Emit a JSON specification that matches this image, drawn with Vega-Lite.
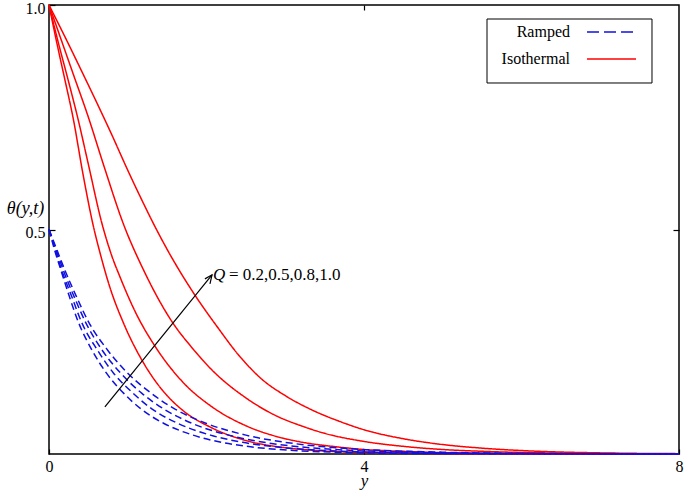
{
  "$schema": "https://vega.github.io/schema/vega-lite/v6.json",
  "width": 630,
  "height": 449,
  "autosize": "none",
  "padding": {"left": 49, "top": 5, "right": 6, "bottom": 38},
  "background": "white",
  "config": {
    "view": {"stroke": "black", "strokeWidth": 1.5},
    "font": "Liberation Serif",
    "axis": {"grid": false, "domain": false, "labelFont": "Liberation Serif", "labelFontSize": 16, "labelColor": "black", "tickColor": "black", "tickWidth": 1.2, "titleFont": "Liberation Serif", "titleColor": "black", "titleFontWeight": "normal"}
  },
  "datasets": {
    "curves": [
      {"curve": "R1", "case": "Isothermal", "pos": 0, "theta": 1},
      {"curve": "R1", "case": "Isothermal", "pos": 0.1, "theta": 0.915},
      {"curve": "R1", "case": "Isothermal", "pos": 0.2, "theta": 0.835},
      {"curve": "R1", "case": "Isothermal", "pos": 0.31, "theta": 0.745},
      {"curve": "R1", "case": "Isothermal", "pos": 0.43, "theta": 0.625},
      {"curve": "R1", "case": "Isothermal", "pos": 0.56, "theta": 0.51},
      {"curve": "R1", "case": "Isothermal", "pos": 0.66, "theta": 0.44},
      {"curve": "R1", "case": "Isothermal", "pos": 0.77, "theta": 0.373},
      {"curve": "R1", "case": "Isothermal", "pos": 0.95, "theta": 0.29},
      {"curve": "R1", "case": "Isothermal", "pos": 1.18, "theta": 0.209},
      {"curve": "R1", "case": "Isothermal", "pos": 1.45, "theta": 0.14},
      {"curve": "R1", "case": "Isothermal", "pos": 1.7, "theta": 0.097},
      {"curve": "R1", "case": "Isothermal", "pos": 2.07, "theta": 0.058},
      {"curve": "R1", "case": "Isothermal", "pos": 2.5, "theta": 0.03},
      {"curve": "R1", "case": "Isothermal", "pos": 2.91, "theta": 0.016},
      {"curve": "R1", "case": "Isothermal", "pos": 3.3, "theta": 0.009},
      {"curve": "R1", "case": "Isothermal", "pos": 3.7, "theta": 0.005},
      {"curve": "R1", "case": "Isothermal", "pos": 4.2, "theta": 0.003},
      {"curve": "R1", "case": "Isothermal", "pos": 5, "theta": 0.001},
      {"curve": "R1", "case": "Isothermal", "pos": 6, "theta": 0.0003},
      {"curve": "R1", "case": "Isothermal", "pos": 8, "theta": 0},
      {"curve": "R2", "case": "Isothermal", "pos": 0, "theta": 1},
      {"curve": "R2", "case": "Isothermal", "pos": 0.12, "theta": 0.915},
      {"curve": "R2", "case": "Isothermal", "pos": 0.24, "theta": 0.835},
      {"curve": "R2", "case": "Isothermal", "pos": 0.37, "theta": 0.745},
      {"curve": "R2", "case": "Isothermal", "pos": 0.5, "theta": 0.645},
      {"curve": "R2", "case": "Isothermal", "pos": 0.67, "theta": 0.515},
      {"curve": "R2", "case": "Isothermal", "pos": 0.8, "theta": 0.44},
      {"curve": "R2", "case": "Isothermal", "pos": 0.9, "theta": 0.395},
      {"curve": "R2", "case": "Isothermal", "pos": 1.1, "theta": 0.315},
      {"curve": "R2", "case": "Isothermal", "pos": 1.35, "theta": 0.239},
      {"curve": "R2", "case": "Isothermal", "pos": 1.7, "theta": 0.16},
      {"curve": "R2", "case": "Isothermal", "pos": 2.07, "theta": 0.105},
      {"curve": "R2", "case": "Isothermal", "pos": 2.5, "theta": 0.063},
      {"curve": "R2", "case": "Isothermal", "pos": 2.91, "theta": 0.038},
      {"curve": "R2", "case": "Isothermal", "pos": 3.19, "theta": 0.027},
      {"curve": "R2", "case": "Isothermal", "pos": 3.6, "theta": 0.017},
      {"curve": "R2", "case": "Isothermal", "pos": 4, "theta": 0.01},
      {"curve": "R2", "case": "Isothermal", "pos": 4.5, "theta": 0.006},
      {"curve": "R2", "case": "Isothermal", "pos": 5, "theta": 0.003},
      {"curve": "R2", "case": "Isothermal", "pos": 6, "theta": 0.001},
      {"curve": "R2", "case": "Isothermal", "pos": 8, "theta": 0},
      {"curve": "R3", "case": "Isothermal", "pos": 0, "theta": 1},
      {"curve": "R3", "case": "Isothermal", "pos": 0.15, "theta": 0.925},
      {"curve": "R3", "case": "Isothermal", "pos": 0.3, "theta": 0.85},
      {"curve": "R3", "case": "Isothermal", "pos": 0.5, "theta": 0.75},
      {"curve": "R3", "case": "Isothermal", "pos": 0.7, "theta": 0.64},
      {"curve": "R3", "case": "Isothermal", "pos": 0.95, "theta": 0.51},
      {"curve": "R3", "case": "Isothermal", "pos": 1.2, "theta": 0.41},
      {"curve": "R3", "case": "Isothermal", "pos": 1.58, "theta": 0.29},
      {"curve": "R3", "case": "Isothermal", "pos": 1.8, "theta": 0.24},
      {"curve": "R3", "case": "Isothermal", "pos": 2.07, "theta": 0.187},
      {"curve": "R3", "case": "Isothermal", "pos": 2.5, "theta": 0.125},
      {"curve": "R3", "case": "Isothermal", "pos": 2.91, "theta": 0.083},
      {"curve": "R3", "case": "Isothermal", "pos": 3.2, "theta": 0.063},
      {"curve": "R3", "case": "Isothermal", "pos": 3.5, "theta": 0.046},
      {"curve": "R3", "case": "Isothermal", "pos": 4, "theta": 0.028},
      {"curve": "R3", "case": "Isothermal", "pos": 4.5, "theta": 0.017},
      {"curve": "R3", "case": "Isothermal", "pos": 5, "theta": 0.01},
      {"curve": "R3", "case": "Isothermal", "pos": 5.5, "theta": 0.006},
      {"curve": "R3", "case": "Isothermal", "pos": 6.5, "theta": 0.002},
      {"curve": "R3", "case": "Isothermal", "pos": 8, "theta": 0.0003},
      {"curve": "R4", "case": "Isothermal", "pos": 0, "theta": 1},
      {"curve": "R4", "case": "Isothermal", "pos": 0.2, "theta": 0.93},
      {"curve": "R4", "case": "Isothermal", "pos": 0.4, "theta": 0.858},
      {"curve": "R4", "case": "Isothermal", "pos": 0.6, "theta": 0.785},
      {"curve": "R4", "case": "Isothermal", "pos": 0.8, "theta": 0.71},
      {"curve": "R4", "case": "Isothermal", "pos": 1, "theta": 0.632},
      {"curve": "R4", "case": "Isothermal", "pos": 1.2, "theta": 0.558},
      {"curve": "R4", "case": "Isothermal", "pos": 1.35, "theta": 0.505},
      {"curve": "R4", "case": "Isothermal", "pos": 1.6, "theta": 0.425},
      {"curve": "R4", "case": "Isothermal", "pos": 1.83, "theta": 0.36},
      {"curve": "R4", "case": "Isothermal", "pos": 2.15, "theta": 0.28},
      {"curve": "R4", "case": "Isothermal", "pos": 2.4, "theta": 0.222},
      {"curve": "R4", "case": "Isothermal", "pos": 2.7, "theta": 0.167},
      {"curve": "R4", "case": "Isothermal", "pos": 3, "theta": 0.13},
      {"curve": "R4", "case": "Isothermal", "pos": 3.34, "theta": 0.098},
      {"curve": "R4", "case": "Isothermal", "pos": 3.7, "theta": 0.072},
      {"curve": "R4", "case": "Isothermal", "pos": 4, "theta": 0.054},
      {"curve": "R4", "case": "Isothermal", "pos": 4.5, "theta": 0.034},
      {"curve": "R4", "case": "Isothermal", "pos": 5, "theta": 0.021},
      {"curve": "R4", "case": "Isothermal", "pos": 5.5, "theta": 0.013},
      {"curve": "R4", "case": "Isothermal", "pos": 6.15, "theta": 0.0065},
      {"curve": "R4", "case": "Isothermal", "pos": 7, "theta": 0.0025},
      {"curve": "R4", "case": "Isothermal", "pos": 8, "theta": 0.0008},
      {"curve": "B1", "case": "Ramped", "pos": 0, "theta": 0.5},
      {"curve": "B1", "case": "Ramped", "pos": 0.07, "theta": 0.455},
      {"curve": "B1", "case": "Ramped", "pos": 0.15, "theta": 0.41},
      {"curve": "B1", "case": "Ramped", "pos": 0.26, "theta": 0.35},
      {"curve": "B1", "case": "Ramped", "pos": 0.37, "theta": 0.295},
      {"curve": "B1", "case": "Ramped", "pos": 0.55, "theta": 0.23},
      {"curve": "B1", "case": "Ramped", "pos": 0.73, "theta": 0.18},
      {"curve": "B1", "case": "Ramped", "pos": 0.95, "theta": 0.135},
      {"curve": "B1", "case": "Ramped", "pos": 1.17, "theta": 0.1},
      {"curve": "B1", "case": "Ramped", "pos": 1.46, "theta": 0.068},
      {"curve": "B1", "case": "Ramped", "pos": 1.83, "theta": 0.042},
      {"curve": "B1", "case": "Ramped", "pos": 2.19, "theta": 0.026},
      {"curve": "B1", "case": "Ramped", "pos": 2.56, "theta": 0.016},
      {"curve": "B1", "case": "Ramped", "pos": 2.92, "theta": 0.01},
      {"curve": "B1", "case": "Ramped", "pos": 3.65, "theta": 0.004},
      {"curve": "B1", "case": "Ramped", "pos": 4.4, "theta": 0.0015},
      {"curve": "B1", "case": "Ramped", "pos": 8, "theta": 0},
      {"curve": "B2", "case": "Ramped", "pos": 0, "theta": 0.5},
      {"curve": "B2", "case": "Ramped", "pos": 0.08, "theta": 0.455},
      {"curve": "B2", "case": "Ramped", "pos": 0.16, "theta": 0.41},
      {"curve": "B2", "case": "Ramped", "pos": 0.29, "theta": 0.35},
      {"curve": "B2", "case": "Ramped", "pos": 0.41, "theta": 0.295},
      {"curve": "B2", "case": "Ramped", "pos": 0.62, "theta": 0.23},
      {"curve": "B2", "case": "Ramped", "pos": 0.82, "theta": 0.18},
      {"curve": "B2", "case": "Ramped", "pos": 1.07, "theta": 0.135},
      {"curve": "B2", "case": "Ramped", "pos": 1.31, "theta": 0.1},
      {"curve": "B2", "case": "Ramped", "pos": 1.64, "theta": 0.068},
      {"curve": "B2", "case": "Ramped", "pos": 2.05, "theta": 0.042},
      {"curve": "B2", "case": "Ramped", "pos": 2.46, "theta": 0.026},
      {"curve": "B2", "case": "Ramped", "pos": 2.87, "theta": 0.016},
      {"curve": "B2", "case": "Ramped", "pos": 3.28, "theta": 0.01},
      {"curve": "B2", "case": "Ramped", "pos": 4.1, "theta": 0.004},
      {"curve": "B2", "case": "Ramped", "pos": 4.92, "theta": 0.0015},
      {"curve": "B2", "case": "Ramped", "pos": 8, "theta": 0},
      {"curve": "B3", "case": "Ramped", "pos": 0, "theta": 0.5},
      {"curve": "B3", "case": "Ramped", "pos": 0.09, "theta": 0.455},
      {"curve": "B3", "case": "Ramped", "pos": 0.18, "theta": 0.41},
      {"curve": "B3", "case": "Ramped", "pos": 0.32, "theta": 0.35},
      {"curve": "B3", "case": "Ramped", "pos": 0.46, "theta": 0.295},
      {"curve": "B3", "case": "Ramped", "pos": 0.68, "theta": 0.23},
      {"curve": "B3", "case": "Ramped", "pos": 0.91, "theta": 0.18},
      {"curve": "B3", "case": "Ramped", "pos": 1.18, "theta": 0.135},
      {"curve": "B3", "case": "Ramped", "pos": 1.46, "theta": 0.1},
      {"curve": "B3", "case": "Ramped", "pos": 1.82, "theta": 0.068},
      {"curve": "B3", "case": "Ramped", "pos": 2.28, "theta": 0.042},
      {"curve": "B3", "case": "Ramped", "pos": 2.73, "theta": 0.026},
      {"curve": "B3", "case": "Ramped", "pos": 3.19, "theta": 0.016},
      {"curve": "B3", "case": "Ramped", "pos": 3.64, "theta": 0.01},
      {"curve": "B3", "case": "Ramped", "pos": 4.55, "theta": 0.004},
      {"curve": "B3", "case": "Ramped", "pos": 5.46, "theta": 0.0015},
      {"curve": "B3", "case": "Ramped", "pos": 8, "theta": 0},
      {"curve": "B4", "case": "Ramped", "pos": 0, "theta": 0.5},
      {"curve": "B4", "case": "Ramped", "pos": 0.1, "theta": 0.455},
      {"curve": "B4", "case": "Ramped", "pos": 0.2, "theta": 0.41},
      {"curve": "B4", "case": "Ramped", "pos": 0.35, "theta": 0.35},
      {"curve": "B4", "case": "Ramped", "pos": 0.5, "theta": 0.295},
      {"curve": "B4", "case": "Ramped", "pos": 0.75, "theta": 0.23},
      {"curve": "B4", "case": "Ramped", "pos": 1, "theta": 0.18},
      {"curve": "B4", "case": "Ramped", "pos": 1.3, "theta": 0.135},
      {"curve": "B4", "case": "Ramped", "pos": 1.6, "theta": 0.1},
      {"curve": "B4", "case": "Ramped", "pos": 2, "theta": 0.068},
      {"curve": "B4", "case": "Ramped", "pos": 2.5, "theta": 0.042},
      {"curve": "B4", "case": "Ramped", "pos": 3, "theta": 0.026},
      {"curve": "B4", "case": "Ramped", "pos": 3.5, "theta": 0.016},
      {"curve": "B4", "case": "Ramped", "pos": 4, "theta": 0.01},
      {"curve": "B4", "case": "Ramped", "pos": 5, "theta": 0.004},
      {"curve": "B4", "case": "Ramped", "pos": 6, "theta": 0.0015},
      {"curve": "B4", "case": "Ramped", "pos": 8, "theta": 0}
    ],
    "arrow": [
      {"seg": "shaft", "o": 1, "pos": 0.71, "theta": 0.105},
      {"seg": "shaft", "o": 2, "pos": 2.07, "theta": 0.399},
      {"seg": "head", "o": 1, "pos": 1.98, "theta": 0.39},
      {"seg": "head", "o": 2, "pos": 2.07, "theta": 0.399},
      {"seg": "head", "o": 3, "pos": 2.044, "theta": 0.379}
    ]
  },
  "layer": [
    {
      "data": {"values": [{}]},
      "mark": {"type": "rect", "fill": "white", "stroke": "black", "strokeWidth": 1},
      "encoding": {
        "x": {"datum": 5.562, "type": "quantitative", "axis": null},
        "x2": {"datum": 7.657},
        "y": {"datum": 0.9688, "type": "quantitative", "axis": null},
        "y2": {"datum": 0.8263}
      }
    },
    {
      "data": {"name": "curves"},
      "mark": {"type": "line", "strokeWidth": 1.5, "interpolate": "monotone"},
      "encoding": {
        "x": {"field": "pos", "type": "quantitative", "scale": {"domain": [0, 8], "nice": false},
          "axis": {"orient": "bottom", "values": [0, 4, 8], "format": "d", "labelFlush": false, "tickSize": -5, "labelPadding": 9, "title": "y", "titleFontStyle": "italic", "titleFontSize": 17, "titleY": 31, "titleBaseline": "alphabetic"}},
        "y": {"field": "theta", "type": "quantitative", "scale": {"domain": [0, 1], "nice": false},
          "axis": {"orient": "left", "values": [0.5, 1], "format": ".1f", "tickSize": -6, "labelPadding": 10, "labelOffset": 3, "title": "θ(y,t)", "titleAngle": 0, "titleX": -24, "titleY": 203, "titleAlign": "center", "titleBaseline": "middle", "titleFontStyle": "italic", "titleFontSize": 18}},
        "color": {"field": "case", "type": "nominal", "scale": {"domain": ["Ramped", "Isothermal"], "range": ["#1010e0", "#ff0000"]}, "legend": null},
        "strokeDash": {"field": "case", "type": "nominal", "scale": {"domain": ["Ramped", "Isothermal"], "range": [[7, 4], [1, 0]]}, "legend": null},
        "detail": {"field": "curve"}
      }
    },
    {
      "data": {"name": "arrow"},
      "mark": {"type": "line", "color": "black", "strokeWidth": 1.2},
      "encoding": {
        "x": {"field": "pos", "type": "quantitative", "axis": {"orient": "top", "values": [4], "labels": false, "tickSize": -5, "title": null}},
        "y": {"field": "theta", "type": "quantitative", "axis": {"orient": "right", "values": [0.5], "labels": false, "tickSize": -6, "title": null}},
        "detail": {"field": "seg"},
        "order": {"field": "o"}
      }
    },
    {
      "data": {"values": [{}]},
      "mark": {"type": "rule", "color": "#1010e0", "strokeWidth": 1.5, "strokeDash": [12, 5]},
      "encoding": {
        "x": {"datum": 6.832, "type": "quantitative", "axis": null},
        "x2": {"datum": 7.416},
        "y": {"datum": 0.9399, "type": "quantitative", "axis": null}
      }
    },
    {
      "data": {"values": [{}]},
      "mark": {"type": "rule", "color": "#ff0000", "strokeWidth": 1.5},
      "encoding": {
        "x": {"datum": 6.832, "type": "quantitative", "axis": null},
        "x2": {"datum": 7.454},
        "y": {"datum": 0.8797, "type": "quantitative", "axis": null}
      }
    },
    {
      "data": {"values": [{}]},
      "mark": {"type": "text", "align": "right", "baseline": "middle", "font": "Liberation Serif", "fontSize": 16, "color": "black"},
      "encoding": {
        "x": {"datum": 6.616, "type": "quantitative", "axis": null},
        "y": {"datum": 0.9399, "type": "quantitative", "axis": null},
        "text": {"value": "Ramped"}
      }
    },
    {
      "data": {"values": [{}]},
      "mark": {"type": "text", "align": "right", "baseline": "middle", "font": "Liberation Serif", "fontSize": 16, "color": "black"},
      "encoding": {
        "x": {"datum": 6.616, "type": "quantitative", "axis": null},
        "y": {"datum": 0.8797, "type": "quantitative", "axis": null},
        "text": {"value": "Isothermal"}
      }
    },
    {
      "data": {"values": [{}]},
      "mark": {"type": "text", "align": "left", "baseline": "middle", "font": "Liberation Serif", "fontSize": 17, "fontStyle": "italic", "color": "black"},
      "encoding": {
        "x": {"datum": 2.083, "type": "quantitative", "axis": null},
        "y": {"datum": 0.399, "type": "quantitative", "axis": null},
        "text": {"value": "Q"}
      }
    },
    {
      "data": {"values": [{}]},
      "mark": {"type": "text", "align": "left", "baseline": "middle", "font": "Liberation Serif", "fontSize": 17, "color": "black", "dx": 16},
      "encoding": {
        "x": {"datum": 2.083, "type": "quantitative", "axis": null},
        "y": {"datum": 0.399, "type": "quantitative", "axis": null},
        "text": {"value": "= 0.2,0.5,0.8,1.0"}
      }
    }
  ],
  "resolve": {"axis": {"x": "independent", "y": "independent"}}
}
